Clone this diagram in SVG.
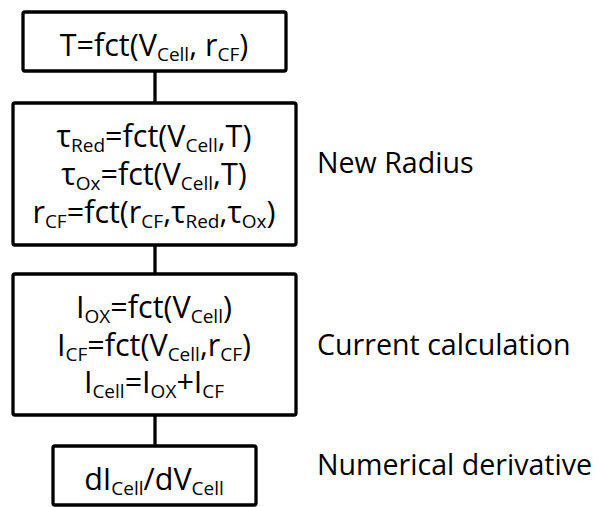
<svg xmlns="http://www.w3.org/2000/svg" width="596" height="507" viewBox="0 0 596 507">
<style>
.box{fill:#fff;stroke:#000;stroke-width:3.3;stroke-linejoin:round}
.con{stroke:#000;stroke-width:3.3;fill:none}
.t{font-family:"Open Sans","Noto Sans",sans-serif;font-size:30.5px;fill:#000;text-anchor:middle}
.s{font-size:19px}
.lbl{font-family:"Open Sans","Noto Sans",sans-serif;font-size:28.6px;fill:#000}
</style>
<rect width="596" height="507" fill="#fff"/>
<g id="connectors">
<line class="con" x1="155" y1="71" x2="155" y2="103"/>
<line class="con" x1="155" y1="245" x2="155" y2="274"/>
<line class="con" x1="155" y1="415" x2="155" y2="446"/>
</g>
<g id="n1">
<rect class="box" x="23" y="12" width="263" height="59" rx="2"/>
<text class="t" x="154" y="56">T=fct(V<tspan class="s" dy="5">Cell</tspan><tspan dy="-5">, r</tspan><tspan class="s" dy="5">CF</tspan><tspan dy="-5">)</tspan></text>
</g>
<g id="n2">
<rect class="box" x="13" y="103" width="283" height="142" rx="2"/>
<text class="t" x="154" y="147">τ<tspan class="s" dy="5">Red</tspan><tspan dy="-5">=fct(V</tspan><tspan class="s" dy="5">Cell</tspan><tspan dy="-5">,T)</tspan></text>
<text class="t" x="154" y="185">τ<tspan class="s" dy="5">Ox</tspan><tspan dy="-5">=fct(V</tspan><tspan class="s" dy="5">Cell</tspan><tspan dy="-5">,T)</tspan></text>
<text class="t" x="154" y="223">r<tspan class="s" dy="5">CF</tspan><tspan dy="-5">=fct(r</tspan><tspan class="s" dy="5">CF</tspan><tspan dy="-5">,τ</tspan><tspan class="s" dy="5">Red</tspan><tspan dy="-5">,τ</tspan><tspan class="s" dy="5">Ox</tspan><tspan dy="-5">)</tspan></text>
</g>
<g id="n3">
<rect class="box" x="13" y="274" width="283" height="141" rx="2"/>
<text class="t" x="154" y="318">I<tspan class="s" dy="5">OX</tspan><tspan dy="-5">=fct(V</tspan><tspan class="s" dy="5">Cell</tspan><tspan dy="-5">)</tspan></text>
<text class="t" x="154" y="356">I<tspan class="s" dy="5">CF</tspan><tspan dy="-5">=fct(V</tspan><tspan class="s" dy="5">Cell</tspan><tspan dy="-5">,r</tspan><tspan class="s" dy="5">CF</tspan><tspan dy="-5">)</tspan></text>
<text class="t" x="154" y="393">I<tspan class="s" dy="5">Cell</tspan><tspan dy="-5">=I</tspan><tspan class="s" dy="5">OX</tspan><tspan dy="-5">+I</tspan><tspan class="s" dy="5">CF</tspan></text>
</g>
<g id="n4">
<rect class="box" x="53" y="446" width="203" height="59" rx="2"/>
<text class="t" x="154" y="490">dI<tspan class="s" dy="5">Cell</tspan><tspan dy="-5">/dV</tspan><tspan class="s" dy="5">Cell</tspan></text>
</g>
<g id="labels">
<text class="lbl" x="317" y="173">New Radius</text>
<text class="lbl" x="317" y="355">Current calculation</text>
<text class="lbl" x="317" y="475">Numerical derivative</text>
</g>
</svg>
